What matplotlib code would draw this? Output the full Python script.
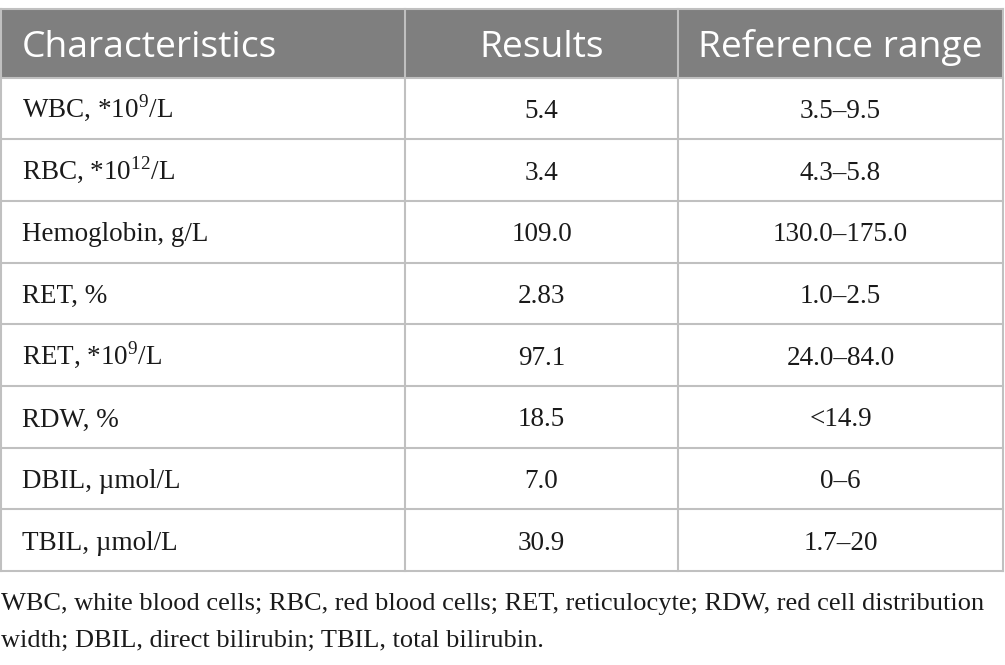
import matplotlib
matplotlib.use("Agg")
import matplotlib.pyplot as plt
from matplotlib.patches import Rectangle

plt.rcParams["mathtext.fontset"] = "custom"
plt.rcParams["mathtext.rm"] = "Liberation Serif"

# table content
headers = ["Characteristics", "Results", "Reference range"]
characteristics = [
    r"WBC, *10$^{\mathrm{9}}$/L",
    r"RBC, *10$^{\mathrm{12}}$/L",
    "Hemoglobin, g/L",
    "RET, %",
    r"RET, *10$^{\mathrm{9}}$/L",
    "RDW, %",
    "DBIL, \u00b5mol/L",
    "TBIL, \u00b5mol/L",
]
results = ["5.4", "3.4", "109.0", "2.83", "97.1", "18.5", "7.0", "30.9"]
ref_ranges = ["3.5\u20139.5", "4.3\u20135.8", "130.0\u2013175.0", "1.0\u20132.5",
              "24.0\u201384.0", "<14.9", "0\u20136", "1.7\u201320"]
footnote = ["WBC, white blood cells; RBC, red blood cells; RET, reticulocyte; RDW, red cell distribution",
            "width; DBIL, direct bilirubin; TBIL, total bilirubin."]

W, H = 1005, 665
fig = plt.figure(figsize=(W / 100, H / 100), dpi=100)
ax = fig.add_axes([0, 0, 1, 1])
ax.set_xlim(0, W)
ax.set_ylim(H, 0)
ax.axis("off")

# layout (pixels)
col_x = [1, 405, 678, 1003]
top, head_bot = 8.5, 77.5
row_h = (571 - head_bot) / len(results)
line_c = "#c0c0c0"
head_c = "#7f7f7f"

ax.add_patch(Rectangle((col_x[0], top), col_x[-1] - col_x[0], head_bot - top,
                       facecolor=head_c, edgecolor="none"))

rm = {"fontfamily": "Liberation Serif", "fontsize": 19.5, "color": "#1a1a1a"}
hd = {"fontfamily": "Open Sans", "fontsize": 26.8, "color": "white"}

ax.text(22, 57, headers[0], ha="left", va="baseline", **hd)
for j in (1, 2):
    ax.text((col_x[j] + col_x[j + 1]) / 2, 57, headers[j],
            ha="center", va="baseline", **hd)

for i, (c, r, rr) in enumerate(zip(characteristics, results, ref_ranges)):
    yb = head_bot + i * row_h + 40.5
    ax.text(22, yb, c, ha="left", va="baseline", **rm)
    ax.text((col_x[1] + col_x[2]) / 2, yb, r, ha="center", va="baseline", **rm)
    ax.text((col_x[2] + col_x[3]) / 2, yb, rr, ha="center", va="baseline", **rm)

# grid lines
bottom = head_bot + len(results) * row_h
ax.plot([col_x[0], col_x[-1]], [top, top], color=line_c, lw=1.5)
for i in range(len(results) + 1):
    y = head_bot + i * row_h
    ax.plot([col_x[0], col_x[-1]], [y, y], color=line_c, lw=1.5)
for x in col_x:
    ax.plot([x, x], [top, bottom], color=line_c, lw=1.5)

fn = dict(rm, fontsize=19.0)
for k, line in enumerate(footnote):
    ax.text(1, 610 + k * 37, line, ha="left", va="baseline", **fn)

fig.savefig("out.png", dpi=100)
